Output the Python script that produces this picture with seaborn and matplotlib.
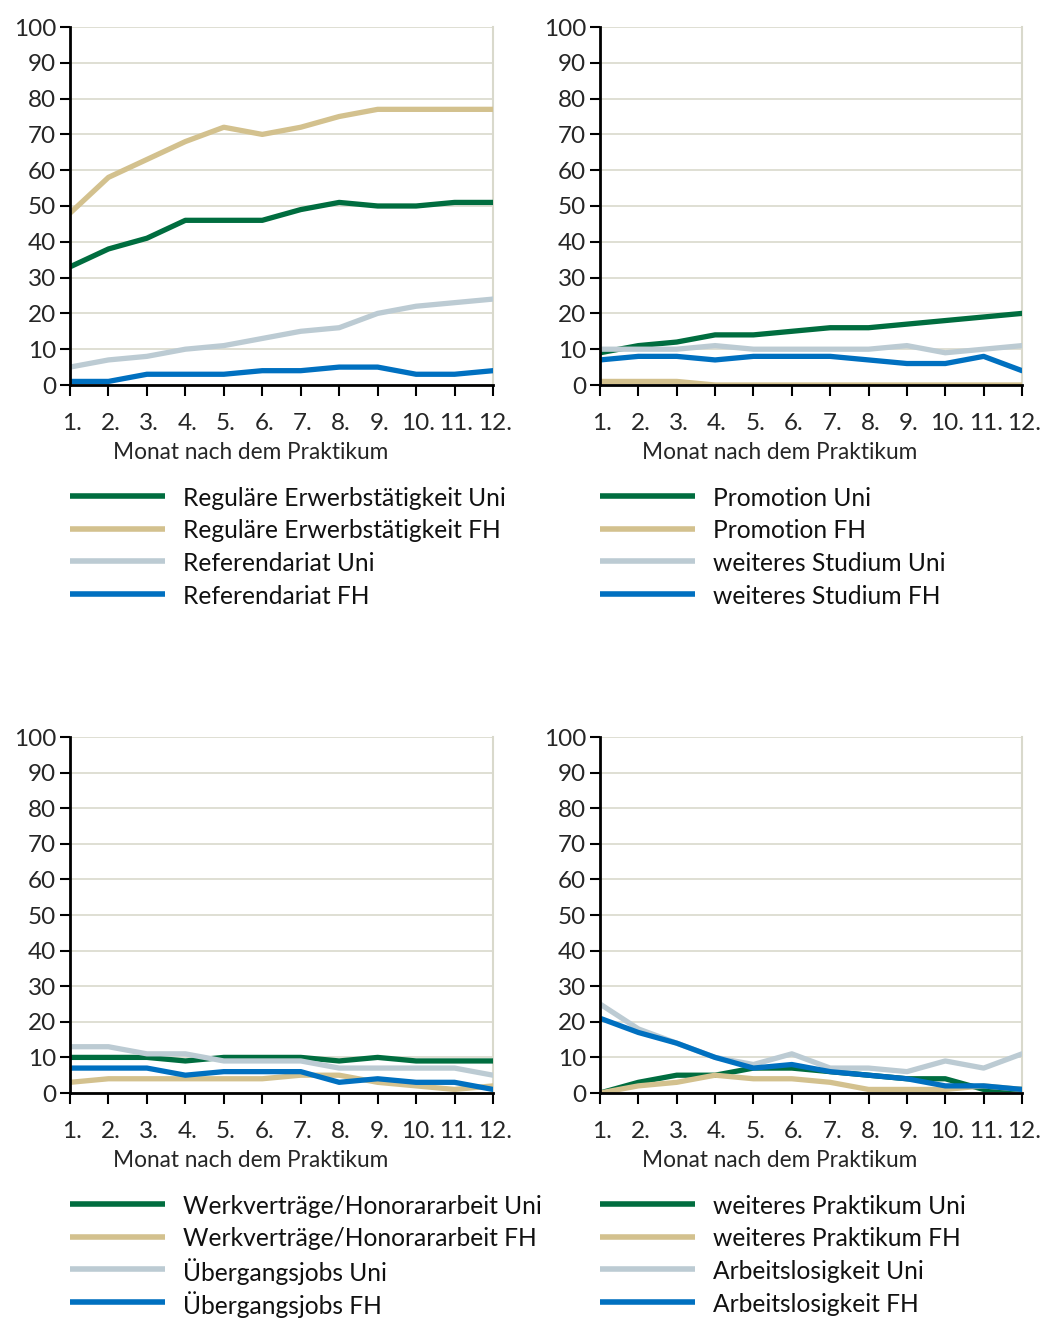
import matplotlib
matplotlib.use("Agg")
import matplotlib.pyplot as plt
import matplotlib.transforms as mtrans
from matplotlib.lines import Line2D
import seaborn as sns
import pandas as pd

months = list(range(1, 13))
month_labels = ["1.", "2.", "3.", "4.", "5.", "6.", "7.", "8.", "9.", "10.", "11.", "12."]
xlabel = "Monat nach dem Praktikum"

# Panel 1
p1_names = ["Reguläre Erwerbstätigkeit Uni", "Reguläre Erwerbstätigkeit FH",
            "Referendariat Uni", "Referendariat FH"]
reg_uni = [33, 38, 41, 46, 46, 46, 49, 51, 50, 50, 51, 51]
reg_fh = [48, 58, 63, 68, 72, 70, 72, 75, 77, 77, 77, 77]
ref_uni = [5, 7, 8, 10, 11, 13, 15, 16, 20, 22, 23, 24]
ref_fh = [1, 1, 3, 3, 3, 4, 4, 5, 5, 3, 3, 4]

# Panel 2
p2_names = ["Promotion Uni", "Promotion FH", "weiteres Studium Uni", "weiteres Studium FH"]
prom_uni = [9, 11, 12, 14, 14, 15, 16, 16, 17, 18, 19, 20]
prom_fh = [1, 1, 1, 0, 0, 0, 0, 0, 0, 0, 0, 0]
stud_uni = [10, 10, 10, 11, 10, 10, 10, 10, 11, 9, 10, 11]
stud_fh = [7, 8, 8, 7, 8, 8, 8, 7, 6, 6, 8, 4]

# Panel 3
p3_names = ["Werkverträge/Honorararbeit Uni", "Werkverträge/Honorararbeit FH",
            "Übergangsjobs Uni", "Übergangsjobs FH"]
werk_uni = [10, 10, 10, 9, 10, 10, 10, 9, 10, 9, 9, 9]
werk_fh = [3, 4, 4, 4, 4, 4, 5, 5, 3, 2, 1, 2]
ueb_uni = [13, 13, 11, 11, 9, 9, 9, 7, 7, 7, 7, 5]
ueb_fh = [7, 7, 7, 5, 6, 6, 6, 3, 4, 3, 3, 1]

# Panel 4
p4_names = ["weiteres Praktikum Uni", "weiteres Praktikum FH",
            "Arbeitslosigkeit Uni", "Arbeitslosigkeit FH"]
prak_uni = [0, 3, 5, 5, 7, 7, 6, 5, 4, 4, 1, 1]
prak_fh = [0, 2, 3, 5, 4, 4, 3, 1, 1, 1, 2, 1]
al_uni = [25, 18, 14, 10, 8, 11, 7, 7, 6, 9, 7, 11]
al_fh = [21, 17, 14, 10, 7, 8, 6, 5, 4, 2, 2, 1]

colors = ["#006d3f", "#d3c18e", "#bccbd3", "#0070c0"]

panels = [
    (p1_names, [reg_uni, reg_fh, ref_uni, ref_fh]),
    (p2_names, [prom_uni, prom_fh, stud_uni, stud_fh]),
    (p3_names, [werk_uni, werk_fh, ueb_uni, ueb_fh]),
    (p4_names, [prak_uni, prak_fh, al_uni, al_fh]),
]

sns.set_theme(style="white")
plt.rcParams["font.family"] = ["Lato", "DejaVu Sans"]

W, H = 1047, 1318
fig = plt.figure(figsize=(W / 100, H / 100), dpi=100)

boxes = [(70, 27, 493, 385), (600, 27, 1022, 385),
         (70, 737, 493, 1093), (600, 737, 1022, 1093)]

grid_col = "#d9d9cc"
tick_fs = 17.5
leg_fs = 17.7
lab_fs = 16.3

for (names, series), (x0, y0, x1, y1) in zip(panels, boxes):
    ax = fig.add_axes([x0 / W, 1 - y1 / H, (x1 - x0) / W, (y1 - y0) / H])
    rows = []
    for n, s in zip(names, series):
        for m, v in zip(months, s):
            rows.append({"Monat": m, "Wert": v, "Serie": n})
    df = pd.DataFrame(rows)
    sns.lineplot(data=df, x="Monat", y="Wert", hue="Serie", hue_order=names,
                 palette=colors, linewidth=3.8, ax=ax, legend=False,
                 solid_capstyle="round", zorder=3)
    ax.set_xlim(1, 12)
    ax.set_ylim(0, 100)
    ax.set_yticks(range(0, 101, 10))
    ax.set_xticks(months)
    ax.set_xticklabels(month_labels)
    ax.yaxis.grid(True, color=grid_col, linewidth=1.2)
    ax.set_axisbelow(True)
    for side in ["left", "bottom"]:
        ax.spines[side].set_color("black")
        ax.spines[side].set_linewidth(2)
        ax.spines[side].set_zorder(4)
    ax.spines["right"].set_color(grid_col)
    ax.spines["right"].set_linewidth(1.5)
    ax.spines["top"].set_visible(False)
    ax.tick_params(axis="y", direction="out", length=7, width=1.5, color="black",
                   labelsize=tick_fs, pad=3, left=True)
    ax.tick_params(axis="x", direction="out", length=8, width=1.5, color="black",
                   labelsize=tick_fs, pad=12, bottom=True)
    offset = mtrans.ScaledTranslation(2 / 100, 0, fig.dpi_scale_trans)
    for lbl in ax.get_xticklabels():
        lbl.set_horizontalalignment("center")
        lbl.set_transform(lbl.get_transform() + offset)
    ax.set_ylabel("")
    ax.set_xlabel(xlabel, fontsize=lab_fs, labelpad=4)
    ax.xaxis.set_label_coords(0.426, -0.16)

    # legend below the panel, evenly spaced rows
    for i, (n, c) in enumerate(zip(names, colors)):
        ypx = y1 + 111 + i * 32.7
        yf = 1 - ypx / H
        fig.add_artist(Line2D([x0 / W, (x0 + 95) / W], [yf, yf], color=c,
                              linewidth=4.0, solid_capstyle="butt",
                              transform=fig.transFigure))
        fig.text((x0 + 113) / W, yf, n, fontsize=leg_fs, va="center_baseline",
                 ha="left", color="#111111")

fig.savefig("out.png", dpi=100)
